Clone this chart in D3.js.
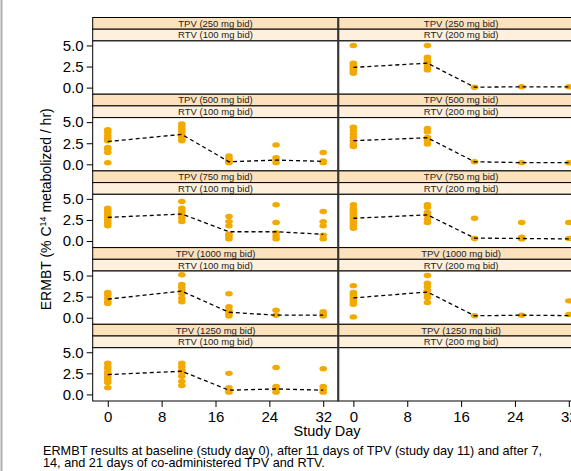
<!DOCTYPE html>
<html>
<head>
<meta charset="utf-8">
<script src="https://cdn.jsdelivr.net/npm/d3@7"></script>
<style>
  body { margin: 0; background: #fff; }
  svg { display: block; font-family: Arial, "Liberation Sans", sans-serif; }
</style>
</head>
<body>
<svg id="chart" width="571" height="471"></svg>
<script>
// Study days at which ERMBT was measured
const studyDays = [0, 11, 18, 25, 32];
const tpvLabels = ["TPV (250 mg bid)", "TPV (500 mg bid)", "TPV (750 mg bid)", "TPV (1000 mg bid)", "TPV (1250 mg bid)"];
const rtvLabels = ["RTV (100 mg bid)", "RTV (200 mg bid)"];
const yTicks = [0, 2.5, 5];
const xTicks = [0, 8, 16, 24, 32];

// Individual ERMBT values per study day, one array per panel (TPV dose _ RTV dose)
const obs250_100 = [];
const obs250_200 = [[5.0, 2.9, 2.7, 2.5, 2.3, 2.1, 1.9, 1.7], [5.0, 3.6, 3.3, 3.0, 2.7, 2.4, 2.1], [0.05], [0.1], [0.1]];
const obs500_100 = [[4.1, 3.8, 3.4, 3.1, 2.8, 2.0, 1.8, 1.4, 0.2], [4.8, 4.5, 4.2, 3.9, 3.6, 3.3, 3.0, 2.8], [1.0, 0.7, 0.5, 0.3, 0.2], [2.3, 0.8, 0.5, 0.2], [1.4, 0.4, 0.2]];
const obs500_200 = [[4.4, 4.0, 3.6, 3.2, 2.8, 2.4, 2.1], [4.25, 3.85, 3.2, 2.8, 2.4], [0.3], [0.2], [0.2]];
const obs750_100 = [[3.9, 3.6, 3.3, 3.0, 2.7, 2.4, 2.1, 1.8], [4.7, 3.9, 3.5, 3.1, 2.7, 2.3], [2.9, 2.3, 1.8, 0.8, 0.55, 0.25], [4.3, 2.2, 1.0, 0.6, 0.25], [3.5, 2.3, 1.8, 0.7, 0.25]];
const obs750_200 = [[4.3, 3.9, 3.6, 3.3, 3.0, 2.7, 2.4, 2.1, 1.8, 1.5], [4.3, 4.0, 3.4, 3.1, 2.6, 2.2], [2.7, 0.3], [2.2, 0.45, 0.25], [2.2, 0.3]];
const obs1000_100 = [[3.0, 2.7, 2.3, 1.9, 1.7], [5.1, 3.95, 3.6, 3.25, 2.85, 2.3, 1.9], [2.85, 1.3, 0.9, 0.5, 0.2], [0.9, 0.3], [0.7, 0.45, 0.2]];
const obs1000_200 = [[3.8, 3.0, 2.7, 2.4, 2.1, 1.8, 1.6, 0.1], [5.0, 4.1, 3.7, 3.25, 2.8, 2.4, 1.8], [0.23], [0.3], [2.0, 0.4]];
const obs1250_100 = [[3.7, 3.3, 3.0, 2.6, 2.3, 2.0, 1.7, 1.4, 0.8], [3.7, 3.3, 2.9, 2.6, 2.15, 1.55, 1.05], [2.5, 0.8, 0.5, 0.27], [3.2, 0.95, 0.6, 0.27], [3.05, 0.95, 0.6, 0.27]];
const obs1250_200 = [];

// Mean ERMBT per study day (dashed line)
const mean250_100 = [];
const mean250_200 = [2.4, 2.9, 0.05, 0.1, 0.1];
const mean500_100 = [2.7, 3.55, 0.3, 0.5, 0.35];
const mean500_200 = [2.8, 3.15, 0.3, 0.2, 0.2];
const mean750_100 = [2.8, 3.2, 1.1, 1.1, 0.8];
const mean750_200 = [2.7, 3.1, 0.35, 0.3, 0.25];
const mean1000_100 = [2.2, 3.15, 0.65, 0.3, 0.3];
const mean1000_200 = [2.35, 3.05, 0.23, 0.3, 0.25];
const mean1250_100 = [2.35, 2.75, 0.5, 0.65, 0.5];
const mean1250_200 = [];

// Panel grid: rows follow TPV dose, columns follow RTV dose
const panelObs = [[obs250_100, obs250_200], [obs500_100, obs500_200], [obs750_100, obs750_200],
                  [obs1000_100, obs1000_200], [obs1250_100, obs1250_200]];
const panelMeans = [[mean250_100, mean250_200], [mean500_100, mean500_200], [mean750_100, mean750_200],
                    [mean1000_100, mean1000_200], [mean1250_100, mean1250_200]];

// Layout
const gridLeft = 92.7, colW = 245.6;
const gridTop = 17.5, rowH = 76.7, stripH = 11.7;
const gridBottom = gridTop + rowH * tpvLabels.length;
const pointColor = "#f2a900";

const svg = d3.select("#chart");

// faint page edge on the left
svg.append("line")
    .attr("x1", 1.5).attr("x2", 1.5)
    .attr("y1", 0).attr("y2", 471)
    .style("stroke", "#b0b0b0").style("stroke-width", 2);

const xScales = rtvLabels.map((_, c) => d3.scaleLinear()
    .domain([-2.24, 34.24])
    .range([gridLeft + c * colW, gridLeft + (c + 1) * colW]));

tpvLabels.forEach((tpv, r) => {
    const rowTop = gridTop + r * rowH;
    const panelTop = rowTop + 2 * stripH;
    const panelBottom = rowTop + rowH;
    const y = d3.scaleLinear().domain([-0.78, 5.54]).range([panelBottom, panelTop]);

    rtvLabels.forEach((rtv, c) => {
        const x = xScales[c];
        const x0 = x.range()[0], x1 = x.range()[1];
        const g = svg.append("g");

        // strips
        [[tpv, "#fce1bd", rowTop], [rtv, "#fef0dd", rowTop + stripH]].forEach(([label, fill, top]) => {
            g.append("rect")
                .attr("x", x0).attr("y", top)
                .attr("width", x1 - x0).attr("height", stripH)
                .style("fill", fill)
                .style("stroke", "#000").style("stroke-width", 1);
            g.append("text")
                .attr("x", (x0 + x1) / 2)
                .attr("y", top + stripH / 2 + 3.4)
                .attr("text-anchor", "middle")
                .style("font-size", "9.5px")
                .style("fill", "#222")
                .text(label);
        });

        // panel box
        g.append("rect")
            .attr("x", x0).attr("y", panelTop)
            .attr("width", x1 - x0).attr("height", panelBottom - panelTop)
            .style("fill", "#fff")
            .style("stroke", "#000").style("stroke-width", 1);

        // points
        const pts = [];
        panelObs[r][c].forEach((vals, i) => vals.forEach(v => pts.push({ day: studyDays[i], v: v })));
        g.selectAll("ellipse")
            .data(pts)
            .enter().append("ellipse")
            .attr("cx", d => x(d.day))
            .attr("cy", d => y(d.v))
            .attr("rx", 3.8).attr("ry", 2.7)
            .style("fill", pointColor);

        // mean line
        const means = panelMeans[r][c].map((v, i) => ({ day: studyDays[i], v: v }));
        if (means.length) {
            g.append("path")
                .datum(means)
                .attr("d", d3.line().x(d => x(d.day)).y(d => y(d.v)))
                .style("fill", "none")
                .style("stroke", "#000")
                .style("stroke-width", 1.3)
                .style("stroke-dasharray", "4,3");
        }

        // y axis on the left column only
        if (c === 0) {
            const ax = g.append("g")
                .attr("transform", `translate(${x0},0)`)
                .call(d3.axisLeft(y).tickValues(yTicks).tickFormat(d3.format(".1f")).tickSize(6).tickPadding(3));
            ax.select(".domain").remove();
            ax.selectAll("text").style("font-size", "15px").style("fill", "#000").style("font-family", "Arial, 'Liberation Sans', sans-serif");
            ax.selectAll("line").style("stroke", "#000");
        }

        // x axis on the bottom row
        if (r === tpvLabels.length - 1) {
            const ax = g.append("g")
                .attr("transform", `translate(0,${panelBottom})`)
                .call(d3.axisBottom(x).tickValues(xTicks).tickSize(6).tickPadding(4));
            ax.select(".domain").remove();
            ax.selectAll("text").style("font-size", "15px").style("fill", "#000").style("font-family", "Arial, 'Liberation Sans', sans-serif");
            ax.selectAll("line").style("stroke", "#000");
        }
    });
});

// column divider
svg.append("line")
    .attr("x1", gridLeft + colW).attr("x2", gridLeft + colW)
    .attr("y1", gridTop).attr("y2", gridBottom)
    .style("stroke", "#333").style("stroke-width", 2);

// axis titles
const yLabel = svg.append("text")
    .attr("transform", `translate(51,${(gridTop + gridBottom) / 2}) rotate(-90)`)
    .attr("text-anchor", "middle")
    .style("font-size", "14px");
yLabel.append("tspan").text("ERMBT (% C");
yLabel.append("tspan").attr("dy", -5).style("font-size", "9px").text("14");
yLabel.append("tspan").attr("dy", 5).text(" metabolized / hr)");

svg.append("text")
    .attr("x", 327).attr("y", 436)
    .attr("text-anchor", "middle")
    .style("font-size", "14.5px")
    .text("Study Day");

// caption
const caption = [
    "ERMBT results at baseline (study day 0), after 11 days of TPV (study day 11) and after 7,",
    "14, and 21 days of co-administered TPV and RTV."
];
caption.forEach((line, i) => {
    svg.append("text")
        .attr("x", 43).attr("y", 455 + i * 11.5)
        .style("font-size", "12.7px")
        .text(line);
});
</script>
</body>
</html>
